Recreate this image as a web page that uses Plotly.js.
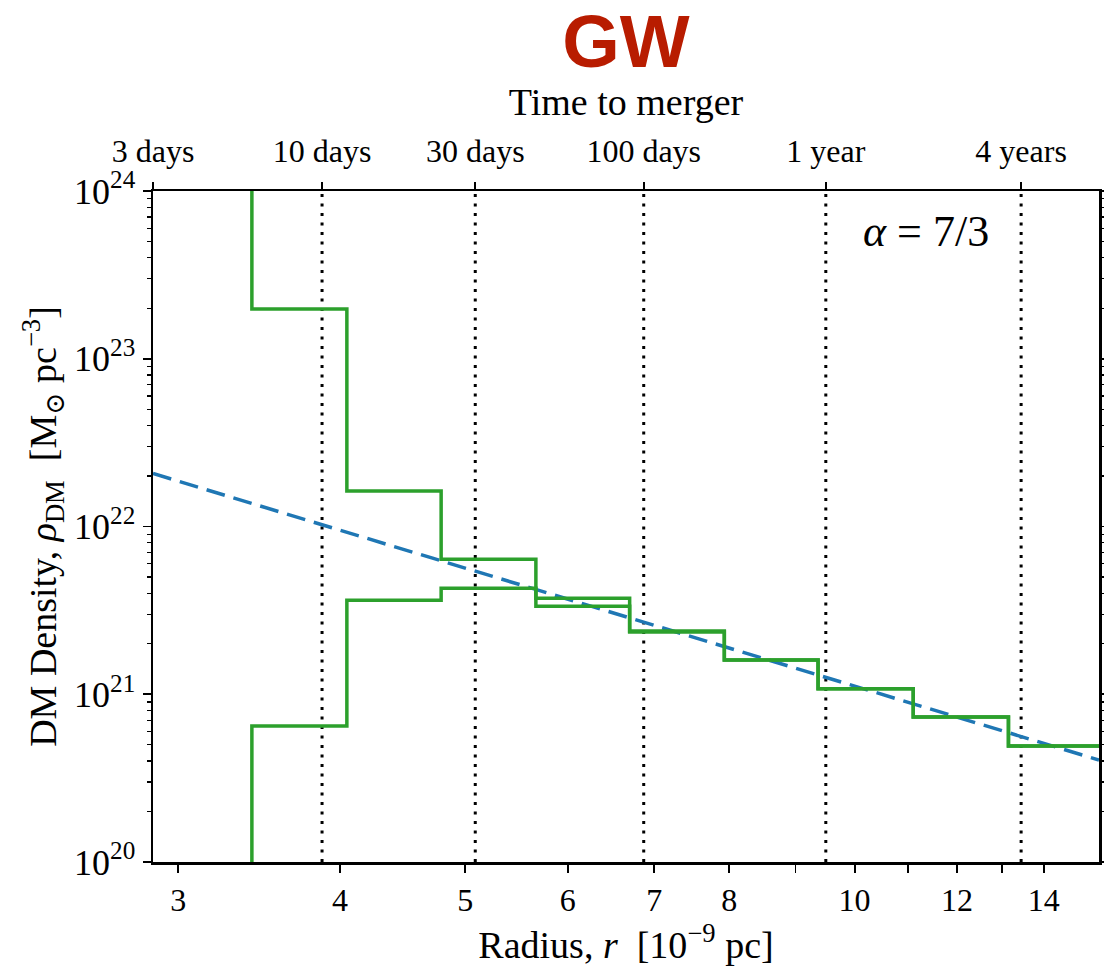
<!DOCTYPE html>
<html>
<head>
<meta charset="utf-8">
<script src="https://cdn.plot.ly/plotly-3.0.1.min.js"></script>
<style>html,body{margin:0;padding:0;background:#fff;}#chart{width:1104px;height:970px;}</style>
</head>
<body>
<div id="chart"></div>
<script>
// Bin left edges of the radius histogram [1e-9 pc] (last value = right end of plot)
const binEdges = [3.42, 3.42, 4.05, 4.79, 5.67, 6.70, 7.93, 9.37, 11.10, 13.15, 15.6];
// Density per bin, upper (initial) and lower (evolved) step curves [Msun pc^-3]
const rhoUpper = [1e26, 1.98e23, 1.63e22, 6.37e21, 3.35e21, 2.35e21, 1.60e21, 1.08e21, 7.33e20, 4.92e20, 4.92e20];
const rhoLower = [1e18, 6.46e20, 3.64e21, 4.28e21, 3.73e21, 2.38e21, 1.60e21, 1.08e21, 7.33e20, 4.92e20, 4.92e20];
// Power-law spike (alpha = 7/3), read at the plot edges
const powerR = [2.868, 15.45];
const powerRho = [2.07e22, 4.05e20];
// Time-to-merger markers on the top axis
const timeRadii = [2.868, 3.875, 5.09, 6.87, 9.50, 13.45];
const timeLabels = ["3 days", "10 days", "30 days", "100 days", "1 year", "4 years"];
// Bottom axis ticks
const xTickVals = [3, 4, 5, 6, 7, 8, 9, 10, 11, 12, 13, 14];
const xTickText = ["3", "4", "5", "6", "7", "8", "", "10", "", "12", "", "14"];
// Y axis ticks
const yTickVals = [1e20, 1e21, 1e22, 1e23, 1e24];
const yTickText = ["10<sup>20</sup>", "10<sup>21</sup>", "10<sup>22</sup>", "10<sup>23</sup>", "10<sup>24</sup>"];

const serif = "Liberation Serif, DejaVu Serif, serif";
const xRange = [Math.log10(2.868), Math.log10(15.45)];
const yRange = [20, 24];

const yMinor = [];
for (let d = 20; d < 24; d++) for (let m = 2; m <= 9; m++) yMinor.push(m * Math.pow(10, d));

const traces = [
  {x: powerR, y: powerRho, mode: 'lines', line: {color: '#1f77b4', width: 3.5, dash: '19px,9px'}, hoverinfo: 'skip'},
  {x: binEdges, y: rhoLower, mode: 'lines', line: {color: '#2ca02c', width: 3.5, shape: 'hv'}, hoverinfo: 'skip'},
  {x: binEdges, y: rhoUpper, mode: 'lines', line: {color: '#2ca02c', width: 3.5, shape: 'hv'}, hoverinfo: 'skip'},
  {x: timeRadii, y: timeRadii.map(() => 1e22), xaxis: 'x2', mode: 'markers', marker: {opacity: 0}, hoverinfo: 'skip'}
];

const shapes = timeRadii.slice(1).map(r => ({
  type: 'line', xref: 'x', yref: 'paper', x0: r, x1: r, y0: 0, y1: 1,
  line: {color: '#000', width: 3, dash: '3px,6.5px'}, layer: 'below'
}));

const layout = {
  width: 1104, height: 970,
  margin: {l: 153, r: 5, t: 191, b: 108},
  paper_bgcolor: '#fff', plot_bgcolor: '#fff',
  showlegend: false,
  font: {family: serif, color: '#000'},
  title: {text: '<b>GW</b>', font: {family: 'Liberation Sans, Arial, sans-serif', size: 74, color: '#b81c00'},
          x: 0.5, xanchor: 'center', xref: 'paper', y: 0.958, yanchor: 'middle', yref: 'container'},
  xaxis: {
    type: 'log', range: xRange, showgrid: false, zeroline: false,
    showline: true, linecolor: '#000', linewidth: 2.5, mirror: true,
    ticks: 'outside', ticklen: 8, tickwidth: 1.8, tickcolor: '#000',
    tickmode: 'array', tickvals: xTickVals, ticktext: xTickText,
    tickfont: {family: serif, size: 32},
    title: {text: 'Radius, <i>r</i>  [10<sup>−9</sup> pc]', font: {family: serif, size: 38}, standoff: 6}
  },
  xaxis2: {
    type: 'log', range: xRange, overlaying: 'x', side: 'top', anchor: 'y',
    showgrid: false, zeroline: false, showline: false,
    ticks: 'outside', ticklen: 8, tickwidth: 1.8, tickcolor: '#000',
    tickmode: 'array', tickvals: timeRadii, ticktext: timeLabels,
    tickfont: {family: serif, size: 32}, ticklabelstandoff: 7,
    title: {text: 'Time to merger', font: {family: serif, size: 38}, standoff: 5}
  },
  yaxis: {
    type: 'log', range: yRange, showgrid: false, zeroline: false,
    showline: true, linecolor: '#000', linewidth: 2.5, mirror: 'ticks',
    ticks: 'outside', ticklen: 8, tickwidth: 1.8, tickcolor: '#000',
    tickmode: 'array', tickvals: yTickVals, ticktext: yTickText,
    tickfont: {family: serif, size: 36},
    minor: {tickmode: 'array', tickvals: yMinor, ticks: 'outside', ticklen: 4, tickwidth: 1.2, tickcolor: '#000'},
    title: {text: 'DM Density, <i>ρ</i><sub>DM</sub>  [M<sub>⊙</sub> pc<sup>−3</sup>]', font: {family: serif, size: 38}, standoff: 6}
  },
  shapes: shapes,
  annotations: [{
    xref: 'paper', yref: 'paper', x: 0.817, y: 0.939, xanchor: 'center', yanchor: 'middle',
    text: '<i>α</i> = 7/3', showarrow: false, font: {family: serif, size: 44, color: '#000'}
  }]
};

Plotly.newPlot('chart', traces, layout, {displayModeBar: false, staticPlot: true});
</script>
</body>
</html>
